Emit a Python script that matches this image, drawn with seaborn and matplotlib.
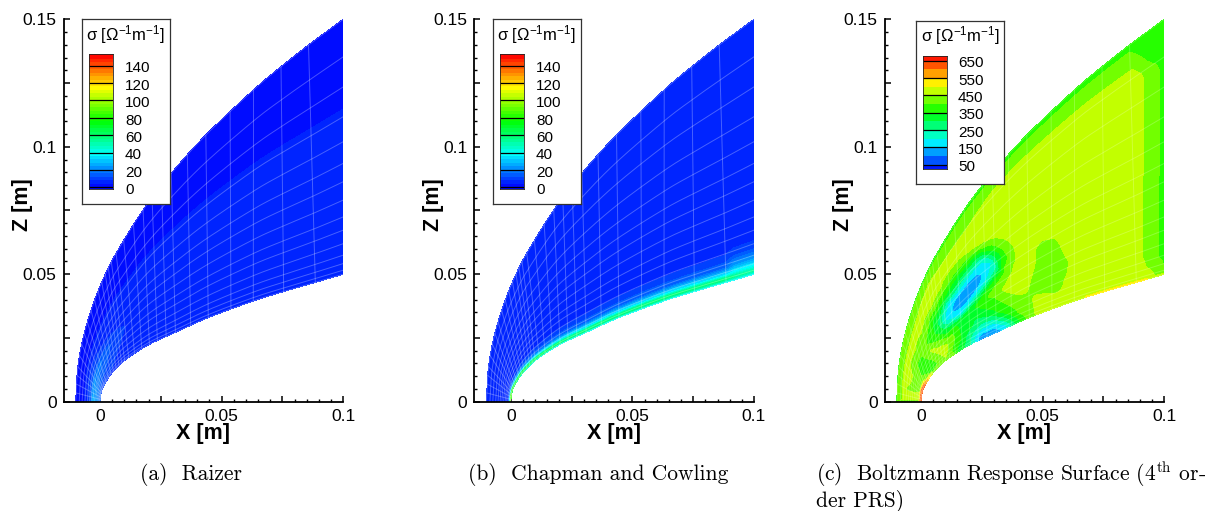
import numpy as np
import pandas as pd
import matplotlib
matplotlib.use("Agg")
import matplotlib.pyplot as plt
from matplotlib.colors import ListedColormap, BoundaryNorm
import seaborn as sns

W, H = 1213, 511
sns.set_theme(style="ticks", rc={"mathtext.fontset": "cm", "mathtext.default": "regular",
                                 "text.color": "black", "xtick.color": "black", "ytick.color": "black",
                                 "axes.labelcolor": "black"})
plt.rcParams["font.family"] = ["Liberation Sans", "DejaVu Sans"]

# ---------- geometry (metres) ----------
stations = np.arange(13)
shock_x = [-.0100, -.0091, -.0065, -.0022, .0022, .0066, .0177, .0293, .0435, .0631, .0744, .0857, .1000]
shock_z = [.0000, .0137, .0268, .0399, .0500, .0582, .0752, .0896, .1046, .1223, .1314, .1399, .1500]
body_x = [.0000, .0005, .0017, .0045, .0078, .0118, .0203, .0310, .0445, .0630, .0755, .0885, .1000]
body_z = [.0000, .0036, .0065, .0108, .0142, .0174, .0225, .0272, .0330, .0395, .0432, .0468, .0500]
mesh_xi = [0, .25, .5, .75, 1, 1.33, 1.67, 2, 2.33, 2.67, 3, 3.33, 3.67, 4, 4.33, 4.67, 5, 5.33, 5.67, 6,
           6.33, 6.67, 7, 7.5, 8, 8.5, 9, 10, 11, 12]
mesh_eta = [0, .147, .265, .382, .48, .565, .637, .709, .775, .827, .88, .925, .958, .984, 1]

# ---------- panel (a) Raizer: conductivity on (eta, station) ----------
a_eta = [0, .28, .40, .60, .70, .85, 1]
a_sigma = [
    [2] * 13,
    [2.5] * 13,
    [5] * 13,
    [10, 12, 10, 8, 7, 6, 5, 5, 5, 5, 5, 5, 5],
    [26, 22, 18, 14, 10, 8, 6, 5, 5, 5, 5, 5, 5],
    [22, 18, 14, 11, 8, 7, 6, 5, 5, 5, 5, 5, 5],
    [12, 10, 8, 7, 6, 5, 5, 5, 5, 5, 5, 5, 5],
]

# ---------- panel (b) Chapman and Cowling ----------
b_station = [0, 1, 2, 3, 4, 5, 6, 7, 8, 9, 10, 11, 11.3, 12]
b_eta = [0, .70, .86, .90, .94, .97, .985, 1]
b_sigma = [
    [5] * 14,
    [5] * 14,
    [6, 6, 6, 6, 6, 6, 6, 6, 6, 6, 6, 6, 7, 7],
    [9, 9, 9, 9, 9, 9, 9, 9, 9, 9, 9, 9, 12, 12],
    [18, 18, 17, 17, 16, 16, 16, 16, 16, 16, 16, 16, 24, 24],
    [46, 44, 40, 38, 36, 36, 36, 36, 36, 36, 36, 36, 40, 40],
    [90, 80, 70, 66, 64, 62, 60, 60, 60, 60, 60, 60, 56, 52],
    [90, 62, 44, 40, 38, 36, 36, 36, 36, 36, 36, 36, 36, 36],
]

# ---------- panel (c) Boltzmann surface: physical tables (cm) ----------
c_near_x = [-1, -.5, 0, .5, 1, 1.5, 2, 2.5, 3, 3.5, 4, 4.5, 5, 5.5, 6, 6.5, 7]
c_near_z = [0, .1, .5, 1, 1.5, 2, 2.5, 3, 3.5, 4, 4.5, 5, 5.5, 6, 6.5, 7]
c_near = [
    [380, 380, 380, 480, 480, 480, 480, 480, 480, 480, 480, 480, 480, 480, 480, 480, 480],
    [480, 480, 480, 480, 480, 480, 480, 480, 480, 480, 480, 480, 480, 480, 480, 480, 480],
    [480, 440, 430, 480, 480, 480, 480, 480, 480, 480, 480, 480, 480, 480, 480, 480, 480],
    [480, 470, 400, 410, 480, 480, 480, 480, 480, 480, 480, 480, 480, 480, 480, 480, 480],
    [480, 460, 370, 380, 430, 480, 480, 480, 480, 480, 480, 480, 480, 480, 480, 480, 480],
    [480, 480, 420, 460, 470, 340, 260, 150, 150, 200, 300, 400, 480, 480, 480, 480, 480],
    [480, 480, 440, 470, 470, 380, 260, 100, 70, 100, 250, 400, 470, 480, 480, 480, 480],
    [480, 480, 470, 400, 345, 345, 320, 235, 170, 200, 300, 400, 470, 480, 480, 480, 480],
    [480, 480, 480, 480, 400, 330, 310, 335, 340, 360, 400, 435, 480, 480, 480, 480, 480],
    [480, 480, 480, 480, 480, 480, 400, 380, 390, 420, 430, 445, 475, 480, 480, 480, 480],
    [480, 480, 480, 480, 480, 480, 480, 480, 440, 470, 480, 445, 420, 415, 470, 480, 480],
    [480, 480, 480, 480, 480, 480, 480, 480, 480, 480, 490, 455, 420, 410, 450, 480, 480],
    [480, 480, 480, 480, 480, 480, 480, 480, 480, 480, 490, 470, 420, 410, 445, 480, 480],
    [480, 480, 480, 480, 480, 480, 480, 480, 480, 480, 480, 465, 430, 425, 470, 480, 480],
    [480, 480, 480, 480, 480, 480, 480, 480, 480, 480, 480, 480, 460, 455, 475, 480, 480],
    [480, 480, 480, 480, 480, 480, 480, 480, 480, 480, 480, 480, 480, 480, 480, 480, 480],
]
# elongated low-conductivity valley, tabulated along (u) and across (v) its axis
valley_origin = (1.1, 3.3)
valley_axis = (.638, .770)
valley_u = [-2, -1.4, -.85, -.5, -.05, .4, 1, 1.5, 2, 2.5, 2.8, 3, 3.5, 3.8, 4.2]
valley_v = [-1.3, -.8, -.55, -.35, -.2, 0, .2, .35, .55, .75, 1, 1.3]
valley = [
    [480, 480, 480, 480, 480, 480, 480, 480, 480, 480, 480, 480],
    [480, 480, 480, 460, 430, 400, 430, 460, 480, 480, 480, 480],
    [480, 470, 440, 400, 370, 350, 370, 400, 440, 470, 480, 480],
    [480, 450, 400, 340, 310, 295, 310, 340, 400, 450, 480, 480],
    [480, 450, 380, 300, 220, 175, 220, 300, 370, 440, 480, 480],
    [480, 450, 370, 200, 160, 140, 160, 200, 330, 400, 470, 480],
    [480, 410, 330, 205, 140, 110, 140, 205, 300, 370, 440, 480],
    [480, 410, 340, 210, 140, 105, 135, 195, 280, 350, 430, 480],
    [480, 420, 345, 220, 160, 135, 150, 190, 275, 360, 430, 480],
    [480, 430, 350, 250, 205, 175, 185, 200, 280, 370, 450, 480],
    [480, 440, 350, 270, 225, 200, 215, 250, 320, 400, 470, 480],
    [480, 440, 400, 350, 300, 275, 290, 320, 370, 430, 480, 480],
    [480, 460, 430, 410, 405, 400, 410, 420, 440, 470, 480, 480],
    [480, 480, 460, 445, 440, 440, 445, 455, 470, 480, 480, 480],
    [480, 480, 480, 480, 480, 480, 480, 480, 480, 480, 480, 480],
]
c_far_x = [7, 8.6, 9.05, 9.25, 9.65, 9.9, 10]
c_far_z = [0, 4.9, 5.3, 5.7, 12.6, 13.0, 13.6, 14, 15]
c_far = [
    [480, 480, 480, 480, 450, 430, 420],
    [480, 480, 480, 480, 450, 430, 420],
    [480, 480, 480, 450, 430, 420, 400],
    [480, 480, 455, 430, 410, 385, 375],
    [480, 480, 470, 430, 425, 385, 375],
    [480, 455, 440, 425, 420, 385, 375],
    [480, 410, 395, 385, 370, 370, 370],
    [370, 370, 370, 370, 370, 370, 370],
    [370, 370, 370, 370, 370, 370, 370],
]
c_cap_eta = [0, .03, .10, .20, .35]
c_cap = [
    [380] * 13,
    [410, 410, 410, 405, 400, 400, 400, 400, 400, 400, 400, 400, 400],
    [420, 420, 420, 430, 440, 430, 420, 445, 445, 445, 445, 445, 445],
    [445, 445, 445, 455, 480, 470, 470, 500, 500, 500, 500, 500, 500],
    [500] * 13,
]
c_hot_eta = [.85, .92, .985, .996, 1]
c_hot = [
    [0] * 13,
    [500, 500, 480, 0, 0, 0, 0, 0, 0, 0, 0, 0, 0],
    [600, 640, 600, 480, 0, 0, 0, 0, 0, 0, 0, 0, 0],
    [600, 640, 600, 480, 0, 0, 0, 0, 0, 490, 520, 520, 470],
    [600, 640, 600, 480, 0, 0, 0, 0, 0, 490, 520, 520, 470],
]

# ---------- text and legends ----------
captions = ["(a)  Raizer", "(b)  Chapman and Cowling",
            "(c)  Boltzmann Response Surface (4$^{\\mathrm{th}}$ or-\nder PRS)"]
x_labels = ["0", "0.05", "0.1"]
z_labels = ["0", "0.05", "0.1", "0.15"]
low_ticks = [0, 20, 40, 60, 80, 100, 120, 140]
high_ticks = [50, 150, 250, 350, 450, 550, 650]
low_levels = [-2.3] + list(range(0, 152, 4)) + [153]
high_levels = [23] + list(range(50, 651, 50)) + [677]
rainbow = ["#0000ff", "#00ffff", "#00ff00", "#ffff00", "#ff0000"]


def bilinear(tx, ty, table, qx, qy):
    tx, ty, table = np.asarray(tx, float), np.asarray(ty, float), np.asarray(table, float)
    qx, qy = np.clip(qx, tx[0], tx[-1]), np.clip(qy, ty[0], ty[-1])
    i = np.clip(np.searchsorted(tx, qx, side="right") - 1, 0, len(tx) - 2)
    j = np.clip(np.searchsorted(ty, qy, side="right") - 1, 0, len(ty) - 2)
    fx = (qx - tx[i]) / (tx[i + 1] - tx[i])
    fy = (qy - ty[j]) / (ty[j + 1] - ty[j])
    return (table[j, i] * (1 - fx) * (1 - fy) + table[j, i + 1] * fx * (1 - fy)
            + table[j + 1, i] * (1 - fx) * fy + table[j + 1, i + 1] * fx * fy)


def curve(t, values):
    """Smooth curve through the values read at the stations (cubic Hermite)."""
    y = np.asarray(values, float)
    m = np.gradient(y)
    t = np.asarray(t, float)
    i = np.clip(np.floor(t).astype(int), 0, len(y) - 2)
    u = t - i
    return ((2 * u**3 - 3 * u**2 + 1) * y[i] + (u**3 - 2 * u**2 + u) * m[i]
            + (-2 * u**3 + 3 * u**2) * y[i + 1] + (u**3 - u**2) * m[i + 1])


def to_phys(t, e):
    sx, sz = curve(t, shock_x), curve(t, shock_z)
    bx, bz = curve(t, body_x), curve(t, body_z)
    return sx + (bx - sx) * e, sz + (bz - sz) * e


t_fine = np.linspace(0, 12, 721)
e_fine = np.concatenate([np.linspace(0, .9, 181)[:-1], np.linspace(.9, 1, 201)])
T, E = np.meshgrid(t_fine, e_fine)
X, Z = to_phys(T, E)

field_a = bilinear(stations, a_eta, a_sigma, T, E)
field_b = bilinear(b_station, b_eta, b_sigma, T, E)
Xc, Zc = X * 100, Z * 100
near = bilinear(c_near_x, c_near_z, c_near, Xc, Zc)
far = bilinear(c_far_x, c_far_z, c_far, Xc, Zc)
U = (Xc - valley_origin[0]) * valley_axis[0] + (Zc - valley_origin[1]) * valley_axis[1]
V = -(Xc - valley_origin[0]) * valley_axis[1] + (Zc - valley_origin[1]) * valley_axis[0]
field_c = np.where((Xc <= 7) & (Zc <= 7), near, far)
field_c = np.minimum(field_c, bilinear(valley_v, valley_u, valley, V, U))
field_c = np.minimum(field_c, bilinear(stations, c_cap_eta, c_cap, T, E))
field_c = np.maximum(field_c, bilinear(stations, c_hot_eta, c_hot, T, E))

rows = []
for n, xi in enumerate(mesh_xi):
    px, pz = to_phys(np.full(41, float(xi)), np.linspace(0, 1, 41))
    rows.append(pd.DataFrame({"x": px, "z": pz, "line": f"xi{n}"}))
for n, eta in enumerate(mesh_eta):
    px, pz = to_phys(np.linspace(0, 12, 241), np.full(241, float(eta)))
    rows.append(pd.DataFrame({"x": px, "z": pz, "line": f"eta{n}"}))
mesh_df = pd.concat(rows, ignore_index=True)

fig = plt.figure(figsize=(W / 100, H / 100), dpi=100)


def rect(x0, y0, x1, y1):
    return [x0 / W, 1 - y1 / H, (x1 - x0) / W, (y1 - y0) / H]


def band_mids(levels):
    return (np.array(levels[:-1], float) + np.array(levels[1:], float)) / 2


def make_cmap(levels, lo, hi):
    mids = band_mids(levels)
    pal = sns.blend_palette(rainbow, n_colors=401)
    idx = np.clip((mids - lo) / (hi - lo) * 400, 0, 400).astype(int)
    return ListedColormap([pal[i] for i in idx]), BoundaryNorm(levels, len(mids))


def panel(x0_px, field, levels, lo, hi, ticks, box, bar, label_x, title_xy, caption_xy, caption, mesh_alpha):
    ax = fig.add_axes(rect(x0_px - 36.5, 19.3, x0_px + 243.3, 401.7))
    ax.patch.set_alpha(0)
    cmap, norm = make_cmap(levels, lo, hi)
    ax.contourf(X, Z, np.clip(field, levels[0] + .01, levels[-1] - .01), levels=levels, cmap=cmap, norm=norm)
    sns.lineplot(data=mesh_df, x="x", y="z", units="line", estimator=None, sort=False,
                 color="white", lw=.7, alpha=mesh_alpha, ax=ax, legend=False, zorder=1.5)
    ax.set_xlim(-.015, .1)
    ax.set_ylim(0, .15)
    ax.set_xticks([0, .025, .05, .075, .1], [x_labels[0], "", x_labels[1], "", x_labels[2]])
    ax.set_yticks([0, .025, .05, .075, .1, .125, .15],
                  [z_labels[0], "", z_labels[1], "", z_labels[2], "", z_labels[3]])
    ax.set_xticks(np.arange(1, 20) * .005, minor=True)
    ax.set_yticks(np.arange(1, 30) * .005, minor=True)
    ax.tick_params(which="major", direction="in", length=4, width=1.1, labelsize=12.6, pad=5)
    ax.tick_params(which="minor", direction="in", length=2.2, width=1.0)
    ax.set_xlabel("")
    ax.set_ylabel("")
    sns.despine(ax=ax)
    for s in ("left", "bottom"):
        ax.spines[s].set_linewidth(1.3)
        ax.spines[s].set_color("black")
    fig.text((x0_px + 103) / W, 1 - 433 / H, "X [m]", fontsize=15.5, fontweight="bold", ha="center", va="center")
    fig.text((x0_px - 77.5) / W, 1 - 205 / H, "Z [m]", fontsize=15.5, fontweight="bold", rotation=90,
             ha="center", va="center")
    # legend
    bx = fig.add_axes(rect(*box), zorder=5)
    bx.set_xticks([])
    bx.set_yticks([])
    for s in bx.spines.values():
        s.set_visible(True)
        s.set_linewidth(.9)
        s.set_color("#333333")
    fig.text(title_xy[0] / W, 1 - title_xy[1] / H, "\u03c3 [\u03a9$^{-1}$m$^{-1}$]", fontsize=12,
             ha="center", va="center", zorder=7)
    cx = fig.add_axes(rect(*bar), zorder=6)
    cx.pcolormesh([0, 1], levels, band_mids(levels)[:, None], cmap=cmap, norm=norm)
    cx.hlines(ticks, 0, 1, color="black", lw=.9)
    cx.set_xlim(0, 1)
    cx.set_ylim(levels[0], levels[-1])
    cx.set_xticks([])
    cx.set_yticks([])
    for s in cx.spines.values():
        s.set_visible(True)
        s.set_linewidth(.6)
        s.set_color("#222222")
    for tv in ticks:
        py = bar[1] + (levels[-1] - tv) / (levels[-1] - levels[0]) * (bar[3] - bar[1]) + 2.8
        fig.text(label_x / W, 1 - py / H, str(tv), fontsize=11, ha="left", va="center", zorder=7)
    for i, line in enumerate(caption.split("\n")):
        fig.text(caption_xy[0] / W, 1 - (caption_xy[1] + i * 26.5) / H, line, fontsize=15.5,
                 family="cmr10", ha="left", va="center")


panel(100, field_a, low_levels, 0, 152, low_ticks, (81.7, 19.5, 170.3, 204.5), (89, 54.3, 113, 189.3), 125,
      (125.5, 35), (140, 474), captions[0], .28)
panel(510.7, field_b, low_levels, 0, 152, low_ticks, (492.7, 19.5, 581.3, 204.5), (500, 54.3, 524, 189.3), 536,
      (536.5, 35), (468, 474), captions[1], .28)
panel(921, field_c, high_levels, 20, 680, high_ticks, (915.7, 21, 1004, 184), (923, 56, 946.7, 169.3), 958,
      (960, 36), (816, 474), captions[2], .22)

fig.savefig("out.png", dpi=100)
